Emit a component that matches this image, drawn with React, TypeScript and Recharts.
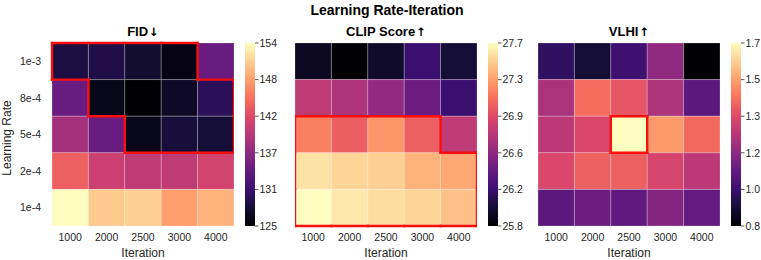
import React from 'react';
import { ComposedChart, BarChart, Bar, XAxis, YAxis, Scatter, ReferenceArea, ReferenceLine } from 'recharts';

const iterations = ['1000', '2000', '2500', '3000', '4000'];
const learningRates = ['1e-3', '8e-4', '5e-4', '2e-4', '1e-4'];

const fidValues = [
  [128.5, 128.8, 127.6, 125.9, 134.0],
  [134.0, 126.2, 125.0, 127.0, 129.6],
  [138.3, 134.0, 126.2, 128.2, 127.9],
  [144.1, 141.0, 140.1, 140.1, 141.5],
  [154.0, 150.8, 151.1, 148.2, 149.4],
];
const clipValues = [
  [25.91, 25.8, 25.95, 26.18, 25.99],
  [26.79, 26.71, 26.58, 26.41, 26.18],
  [27.19, 27.04, 27.28, 27.05, 26.79],
  [27.59, 27.53, 27.51, 27.4, 27.36],
  [27.7, 27.61, 27.57, 27.53, 27.45],
];
const vlhiValues = [
  [0.953, 0.89, 0.989, 1.169, 0.8],
  [1.223, 1.421, 1.367, 1.232, 1.052],
  [1.259, 1.331, 1.7, 1.511, 1.412],
  [1.331, 1.394, 1.394, 1.322, 1.259],
  [1.052, 1.088, 1.061, 1.142, 1.07],
];

const fidHighlight = [
  [1, 1, 1, 1, 0],
  [0, 1, 1, 1, 1],
  [0, 0, 1, 1, 1],
  [0, 0, 0, 0, 0],
  [0, 0, 0, 0, 0],
];
const clipHighlight = [
  [0, 0, 0, 0, 0],
  [0, 0, 0, 0, 0],
  [1, 1, 1, 1, 0],
  [1, 1, 1, 1, 1],
  [1, 1, 1, 1, 1],
];
const vlhiHighlight = [
  [0, 0, 0, 0, 0],
  [0, 0, 0, 0, 0],
  [0, 0, 1, 0, 0],
  [0, 0, 0, 0, 0],
  [0, 0, 0, 0, 0],
];

const fidTicks = [125, 130.8, 136.6, 142.4, 148.2, 154];
const clipTicks = [25.8, 26.18, 26.56, 26.94, 27.32, 27.7];
const vlhiTicks = [0.8, 0.98, 1.16, 1.34, 1.52, 1.7];

const cellTicks = [0.5, 1.5, 2.5, 3.5, 4.5];

const MAGMA = ['#000004', '#140e36', '#3b0f70', '#641a80', '#8c2981', '#b73779', '#de4968', '#f7705c', '#fe9f6d', '#fecf92', '#fcfdbf'];

function hex(h: string) {
  return [parseInt(h.slice(1, 3), 16), parseInt(h.slice(3, 5), 16), parseInt(h.slice(5, 7), 16)];
}
function magma(t: number) {
  const tt = Math.max(0, Math.min(1, t));
  const p = tt * (MAGMA.length - 1);
  const i = Math.min(MAGMA.length - 2, Math.floor(p));
  const f = p - i;
  const a = hex(MAGMA[i]);
  const b = hex(MAGMA[i + 1]);
  const c = a.map((v, k) => Math.round(v + (b[k] - v) * f));
  return `rgb(${c[0]},${c[1]},${c[2]})`;
}

function outlineSegments(mask: number[][]) {
  const segs: { x: number; y: number }[][] = [];
  const n = mask.length;
  const m = mask[0].length;
  for (let r = 0; r < n; r++) {
    for (let c = 0; c < m; c++) {
      if (!mask[r][c]) continue;
      if (r === 0 || !mask[r - 1][c]) segs.push([{ x: c, y: r }, { x: c + 1, y: r }]);
      if (r === n - 1 || !mask[r + 1][c]) segs.push([{ x: c, y: r + 1 }, { x: c + 1, y: r + 1 }]);
      if (c === 0 || !mask[r][c - 1]) segs.push([{ x: c, y: r }, { x: c, y: r + 1 }]);
      if (c === m - 1 || !mask[r][c + 1]) segs.push([{ x: c + 1, y: r }, { x: c + 1, y: r + 1 }]);
    }
  }
  return segs;
}

const FONT = '"Liberation Sans", Arial, sans-serif';
const TEXT = '#262626';

const PLOT_TOP = 43;
const PLOT_W = 182;
const Y_AXIS_W = 52;

function Heatmap({ left, showY, values, mask, vmin, vmax }: any) {
  const data = values.flatMap((row: number[], r: number) => row.map((v, c) => ({ x: c + 0.5, y: r + 0.5, v })));
  const segs = outlineSegments(mask);
  const width = showY ? PLOT_W + Y_AXIS_W : PLOT_W;
  return (
    <div style={{ position: 'absolute', left: showY ? left - Y_AXIS_W : left, top: 0 }}>
      <ComposedChart width={width} height={260} margin={{ top: PLOT_TOP, right: 0, bottom: 0, left: 0 }} data={data}>
        <XAxis
          type="number"
          dataKey="x"
          domain={[0, 5]}
          ticks={cellTicks}
          interval={0}
          tickFormatter={(v: number) => iterations[Math.floor(v)]}
          height={34}
          axisLine={false}
          tickLine={false}
          tick={{ fontSize: 10.5, fill: TEXT, fontFamily: FONT }}
        />
        <YAxis
          type="number"
          dataKey="y"
          domain={[0, 5]}
          reversed
          ticks={cellTicks}
          interval={0}
          tickFormatter={(v: number) => learningRates[Math.floor(v)]}
          hide={!showY}
          width={Y_AXIS_W}
          axisLine={false}
          tickLine={false}
          tickMargin={5}
          tick={{ fontSize: 10.5, fill: TEXT, fontFamily: FONT }}
        />
        {values.map((row: number[], r: number) =>
          row.map((v: number, c: number) => (
            <ReferenceArea
              key={`a${r}-${c}`}
              x1={c}
              x2={c + 1}
              y1={r}
              y2={r + 1}
              fill={magma((v - vmin) / (vmax - vmin))}
              fillOpacity={1}
              stroke="rgba(255,255,255,0.22)"
              strokeWidth={1}
              ifOverflow="visible"
            />
          ))
        )}
        {segs.map((s, i) => (
          <ReferenceLine
            key={`s${i}`}
            segment={s}
            stroke="#f80f0f"
            strokeWidth={2.4}
            strokeLinecap="square"
            ifOverflow="visible"
          />
        ))}
        <Scatter dataKey="y" fillOpacity={0} strokeOpacity={0} isAnimationActive={false} />
      </ComposedChart>
    </div>
  );
}

function Colorbar({ left, id, ticks, digits }: any) {
  const min = ticks[0];
  const max = ticks[ticks.length - 1];
  const data = [{ name: 'cb', range: [min, max] }];
  const stops = MAGMA.map((_, i) => i / (MAGMA.length - 1));
  return (
    <div style={{ position: 'absolute', left, top: 0 }}>
      <BarChart width={40} height={260} margin={{ top: PLOT_TOP, right: 0, bottom: 34, left: 0 }} data={data} barCategoryGap={0}>
        <defs>
          <linearGradient id={id} x1="0" y1="0" x2="0" y2="1">
            {stops.map((s, i) => (
              <stop key={i} offset={s} stopColor={magma(1 - s)} />
            ))}
          </linearGradient>
        </defs>
        <XAxis dataKey="name" hide />
        <YAxis
          orientation="right"
          type="number"
          domain={[min, max]}
          ticks={ticks}
          interval={0}
          width={30}
          axisLine={false}
          tickSize={3.5}
          tickMargin={1}
          tickLine={{ stroke: '#555' }}
          tickFormatter={(v: number) => v.toFixed(digits)}
          tick={{ fontSize: 10.5, fill: TEXT, fontFamily: FONT }}
        />
        <Bar dataKey="range" fill={`url(#${id})`} isAnimationActive={false} />
      </BarChart>
    </div>
  );
}

function Title({ left, width, top, size, text, arrow, bold = true }: any) {
  return (
    <div
      style={{
        position: 'absolute',
        left,
        top,
        width,
        textAlign: 'center',
        fontSize: size,
        lineHeight: `${size}px`,
        fontWeight: bold ? 'bold' : 'normal',
        color: bold ? '#000' : TEXT,
        fontFamily: FONT,
        whiteSpace: 'nowrap',
      }}
    >
      {text}
      {arrow ? (
        <span style={{ fontFamily: '"DejaVu Sans", sans-serif', fontWeight: 'bold', fontSize: size * 0.9, marginLeft: 1 }}>{arrow}</span>
      ) : null}
    </div>
  );
}

const panels = [
  { left: 52, cb: 245, title: 'FID', arrow: '↓', values: fidValues, mask: fidHighlight, ticks: fidTicks, digits: 0, id: 'cbfid' },
  { left: 295, cb: 488, title: 'CLIP Score', arrow: '↑', values: clipValues, mask: clipHighlight, ticks: clipTicks, digits: 1, id: 'cbclip' },
  { left: 538, cb: 731, title: 'VLHI', arrow: '↑', values: vlhiValues, mask: vlhiHighlight, ticks: vlhiTicks, digits: 1, id: 'cbvlhi' },
];

export default function App() {
  return (
    <div style={{ position: 'absolute', left: 0, top: 0, width: 761, height: 260, background: '#fff', overflow: 'hidden', fontFamily: FONT }}>
      <Title left={0} width={774} top={3} size={14} text="Learning Rate-Iteration" />
      {panels.map((p, i) => (
        <React.Fragment key={p.id}>
          <Title left={p.left} width={PLOT_W} top={25} size={13} text={p.title} arrow={p.arrow} />
          <Heatmap
            left={p.left}
            showY={i === 0}
            values={p.values}
            mask={p.mask}
            vmin={p.ticks[0]}
            vmax={p.ticks[p.ticks.length - 1]}
          />
          <Colorbar left={p.cb} id={p.id} ticks={p.ticks} digits={p.digits} />
          <Title left={p.left} width={PLOT_W} top={247} size={12} text="Iteration" bold={false} />
        </React.Fragment>
      ))}
      <div
        style={{
          position: 'absolute',
          left: 6.5 - 60,
          top: 137.5 - 6,
          width: 120,
          height: 12,
          lineHeight: '12px',
          fontSize: 12,
          textAlign: 'center',
          color: TEXT,
          fontFamily: FONT,
          transform: 'rotate(-90deg)',
          whiteSpace: 'nowrap',
        }}
      >
        Learning Rate
      </div>
    </div>
  );
}
